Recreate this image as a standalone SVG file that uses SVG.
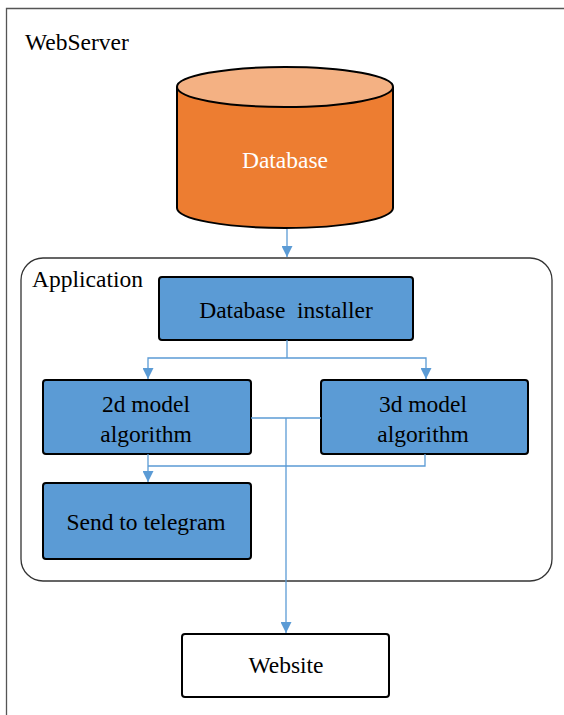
<svg xmlns="http://www.w3.org/2000/svg" width="564" height="715" viewBox="0 0 564 715">
<style>
text{font-family:"Liberation Serif","Times New Roman",serif;font-size:23.5px;fill:#000}
.box{fill:#5B9BD5;stroke:#000;stroke-width:2}
.conn{fill:none;stroke:#5B9BD5;stroke-width:1.3}
.mid{text-anchor:middle}
</style>
<defs>
<marker id="arr" viewBox="0 0 10 10" refX="10" refY="5" markerWidth="11" markerHeight="11" markerUnits="userSpaceOnUse" orient="auto">
<path d="M0,0 L10,5 L0,10 z" fill="#5B9BD5"/>
</marker>
</defs>
<rect width="564" height="715" fill="#fff"/>
<g id="webserver">
<path d="M6.5,715 V8.5 H564" fill="none" stroke="#555" stroke-width="1.3"/>
<text x="25" y="50">WebServer</text>
</g>
<g id="application">
<rect x="21" y="258" width="531" height="323" rx="22" fill="none" stroke="#333" stroke-width="1.3"/>
<text x="32" y="287">Application</text>
</g>
<g id="database">
<path d="M177,87 V208 A108,20 0 0 0 393,208 V87" fill="#ED7D31" stroke="#000" stroke-width="2"/>
<ellipse cx="285" cy="87" rx="108" ry="20" fill="#F4B183" stroke="#000" stroke-width="2"/>
<text x="285" y="168" class="mid" style="fill:#fff">Database</text>
</g>
<g id="installer">
<rect class="box" x="159" y="277" width="254" height="63" rx="3"/>
<text x="286" y="318" class="mid" xml:space="preserve">Database  installer</text>
</g>
<g id="model2d">
<rect class="box" x="43" y="380" width="208" height="74" rx="3"/>
<text x="146" y="412" class="mid">2d model</text>
<text x="146" y="442" class="mid">algorithm</text>
</g>
<g id="model3d">
<rect class="box" x="321" y="380" width="207" height="74" rx="3"/>
<text x="423" y="412" class="mid">3d model</text>
<text x="423" y="442" class="mid">algorithm</text>
</g>
<g id="telegram">
<rect class="box" x="43" y="483" width="208" height="76" rx="3"/>
<text x="146" y="530" class="mid">Send to telegram</text>
</g>
<g id="website">
<rect x="182" y="634" width="207" height="63" rx="3" fill="#fff" stroke="#000" stroke-width="2"/>
<text x="286" y="673" class="mid">Website</text>
</g>
<g id="connectors">
<path class="conn" d="M287,229 V257" marker-end="url(#arr)"/>
<path class="conn" d="M287,340 V358"/>
<path class="conn" d="M287,358 H148 V379" marker-end="url(#arr)"/>
<path class="conn" d="M287,358 H426 V379" marker-end="url(#arr)"/>
<path class="conn" d="M251,418 H321"/>
<path class="conn" d="M286,418 V633" marker-end="url(#arr)"/>
<path class="conn" d="M148,454 V482" marker-end="url(#arr)"/>
<path class="conn" d="M425,454 V466 H148"/>
</g>
</svg>
